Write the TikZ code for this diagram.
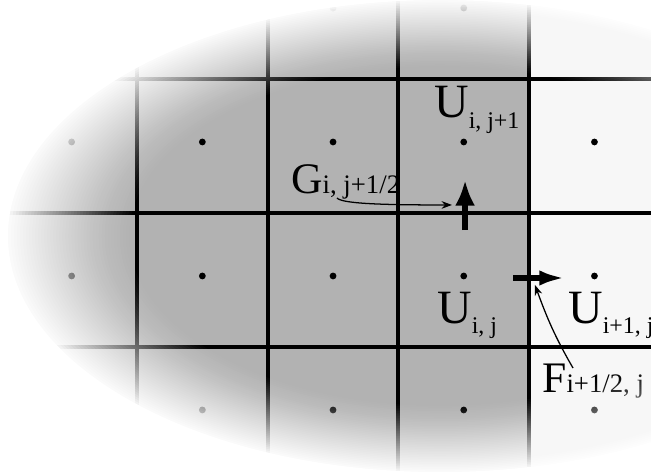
\documentclass[tikz,border=0pt]{standalone}
\usepackage{fontspec}
\setmainfont{Liberation Serif}
\usetikzlibrary{arrows.meta}

\newcommand{\ulab}[2]{#1\raisebox{-7.8pt}{\fontsize{17}{17}\selectfont #2}}
\newcommand{\flab}[2]{#1{\fontsize{19}{19}\selectfont #2}}

\begin{document}
\begin{tikzpicture}[x=3.2675cm,y=3.35cm,
  gridline/.style={line width=2.8pt},
  celldot/.style={circle,fill=black,inner sep=0pt,minimum size=0.17cm},
  ulabel/.style={anchor=base west,inner sep=0pt,font=\fontsize{34}{34}\selectfont},
  flabel/.style={anchor=base west,inner sep=0pt,font=\fontsize{31}{31}\selectfont},
  fluxarrow/.style={line width=3.8pt,-{Latex[length=6.4mm,width=5mm]}},
  pointer/.style={line width=0.9pt,-{Stealth[length=2.6mm,width=1.9mm]}}]
  \useasboundingbox (-1.0482,-0.9328) rectangle (3.9327,2.5896);
  \clip (-1.0482,-0.9328) rectangle (3.9327,2.5896);
  % cells
  \fill[black!30] (-1.1,-1) rectangle (3,2.7);
  \fill[black!3] (3,-1) rectangle (4,2.7);
  \foreach \y in {0,1,2} \draw[gridline] (-1.1,\y) -- (4,\y);
  \foreach \x in {0,1,2,3} \draw[gridline] (\x,-1) -- (\x,2.7);
  \foreach \i in {-1,0,1,2,3} {
    \foreach \j in {-1,0,1,2} \node[celldot] (d\i\j) at (\i+0.5,\j+0.53) {};
  }
  % fluxes
  \coordinate (gtail) at (2.51,0.873);
  \coordinate (gtip) at (2.51,1.246);
  \coordinate (ftail) at (2.877,0.515);
  \coordinate (ftip) at (3.275,0.515);
  \draw[fluxarrow] (gtail) -- (gtip);
  \draw[fluxarrow,-{Latex[length=6.4mm,width=3.8mm]}] (ftail) -- (ftip);
  % labels
  \node[ulabel] (uup) at (2.272,1.716) {\ulab{U}{i, j+1}};
  \node[ulabel] (uc) at (2.295,0.179) {\ulab{U}{i, j}};
  \node[ulabel] (uright) at (3.298,0.179) {\ulab{U}{i+1, j}};
  \node[flabel] (glab) at (1.178,1.149) {\flab{G}{i, j+1/2}};
  \node[flabel] (flab) at (3.099,-0.336) {\flab{F}{i+1/2, j}};
  \coordinate (gfrom) at (1.530,1.112);
  \coordinate (gto) at (2.410,1.060);
  \coordinate (ffrom) at (3.336,-0.157);
  \coordinate (fto) at (3.045,0.463);
  \draw[pointer] (gfrom) .. controls (1.57,1.068) and (1.90,1.060) .. (gto);
  \draw[pointer] (ffrom) to[out=120,in=-70] (fto);
  % fuzzy elliptic edge
  \coordinate (ctr) at (2.318,0.828);
  \foreach \k in {0,...,39} {
    \pgfmathsetmacro{\s}{0.72+0.28*\k/40}
    \pgfmathsetmacro{\o}{1-(1-0.96*(\k+1)/40)/(1-0.96*\k/40)}
    \fill[white,opacity=\o,even odd rule] (-1.1,-1) rectangle (4,2.7)
      (ctr) ellipse [x radius=\s*10.8cm,y radius=\s*5.9cm];
  }
  \fill[white,even odd rule] (-1.1,-1) rectangle (4,2.7)
    (ctr) ellipse [x radius=10.8cm,y radius=5.9cm];
\end{tikzpicture}
\end{document}
